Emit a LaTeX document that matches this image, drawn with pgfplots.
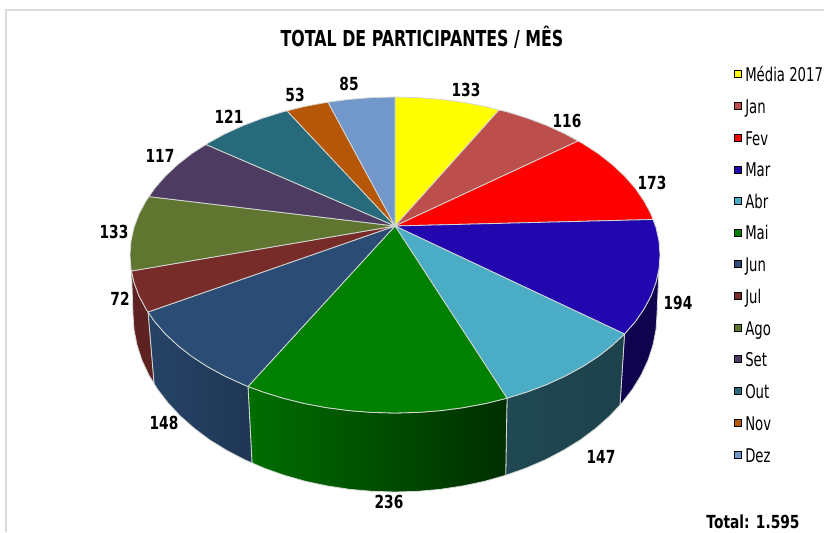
\documentclass[border=0pt]{standalone}
\usepackage{fontspec}
\setmainfont{DejaVu Sans}[FakeStretch=0.70]
\newfontfamily\titlefont{DejaVu Sans}[FakeStretch=0.72]
\newfontfamily\labfont{DejaVu Sans}[FakeStretch=0.765]
\usepackage{pgfplots}
\pgfplotsset{compat=1.18}
\usepackage{pgfplotstable}

\definecolor{cyel}{HTML}{FFFF00}
\definecolor{cjan}{HTML}{BC4F4C}
\definecolor{cfev}{HTML}{FF0000}
\definecolor{cmar}{HTML}{2207AE}
\definecolor{cabr}{HTML}{4BACC6}
\definecolor{cmai}{HTML}{008000}
\definecolor{cjun}{HTML}{2B4C75}
\definecolor{cjul}{HTML}{772C2A}
\definecolor{cago}{HTML}{5F7530}
\definecolor{cset}{HTML}{4D3B62}
\definecolor{cout}{HTML}{276A7C}
\definecolor{cnov}{HTML}{B65708}
\definecolor{cdez}{HTML}{7297CA}
\definecolor{edgec}{HTML}{D4D8D4}

% label position (pixels) and value of each slice
\pgfplotstableread{
x   y   v
466 90  133
567 121 116
652 183 173
678 303 194
601 457 147
389 502 236
164 423 148
120 299 72
114 232 133
160 156 117
229 117 121
295 95  53
349 84  85
}\labels

\pgfplotstableread[col sep=comma]{
x,y,name
745,74,Média 2017
745,106,Jan
745,138,Fev
745,169.5,Mar
745,201,Abr
745,232.5,Mai
745,264,Jun
745,296,Jul
745,328,Ago
745,359,Set
745,391,Out
745,423,Nov
745,455,Dez
}\keys

\pgfplotsset{
    wedge/.style={fill=#1, draw=edgec, line width=0.6pt, forget plot},
    side/.style 2 args={left color=#1, right color=#2, draw=edgec, line width=0.6pt, forget plot},
    key/.style={only marks, mark=square*, mark size=2.6pt, mark options={fill=#1, draw=none}, forget plot},
}

\begin{document}
\begin{tikzpicture}
\begin{axis}[
    scale only axis,
    width=618pt, height=399pt,
    xmin=0, xmax=824, ymin=0, ymax=532,
    y dir=reverse,
    hide axis,
    clip=false,
]
% frame
\addplot[no markers, color=black!15, line width=1.1pt, forget plot] coordinates {(824,10) (6,10) (6,532)};

% side walls
\addplot[no markers, side={cmar!45!black}{cmar!45!black}] coordinates {
    (659,268.8) (656,282.4) (651,295.9) (644,309) (635.2,321.8) (624.5,334)
    (620,405) (621.9,403) (632.5,389.2) (641.2,374.9) (648.1,360.1) (653,344.9) (656,329.5) (657,314)
} -- cycle;
\addplot[no markers, side={cabr!42!black}{cabr!38!black}] coordinates {
    (624.5,334) (612.1,345.6) (598,356.6) (582.4,366.7) (565.3,376) (547,384.4) (527.5,391.8) (507,398.2)
    (505.7,475.3) (526,468.1) (545.3,459.8) (563.4,450.3) (580.3,439.9) (595.7,428.4) (609.6,416.1) (620,405)
} -- cycle;
\addplot[no markers, side={cmai!86!black}{cmai!36!black}] coordinates {
    (507,398.2) (485.6,403.5) (463.6,407.6) (441,410.6) (418.1,412.4) (395,413) (371.9,412.4) (349,410.6)
    (326.4,407.6) (304.4,403.5) (283,398.2) (262.5,391.8) (248,386.5)
    (252,462.9) (264,468.1) (284.3,475.3) (305.4,481.3) (327.2,485.9) (349.5,489.3) (372.2,491.3) (395,492)
    (417.8,491.3) (440.5,489.3) (462.8,485.9) (484.6,481.3) (505.7,475.3)
} -- cycle;
\addplot[no markers, side={cjun!88!black}{cjun!72!black}] coordinates {
    (248,386.5) (243,384.4) (224.7,376) (207.6,366.7) (192,356.6) (177.9,345.6) (165.5,334) (154.8,321.8) (148,312)
    (154,383.4) (157.5,389.2) (168.1,403) (180.4,416.1) (194.3,428.4) (209.7,439.9) (226.6,450.3) (244.7,459.8) (252,462.9)
} -- cycle;
\addplot[no markers, side={cjul!78!black}{cjul!78!black}] coordinates {
    (148,312) (146,309) (139,295.9) (134,282.4) (131.5,271)
    (133,314) (134,329.5) (137,344.9) (141.9,360.1) (148.8,374.9) (154,383.4)
} -- cycle;

% top face
\addplot[no markers, wedge=cyel] coordinates {(395,226) (395,97) (418.1,97.6) (441,99.4) (463.6,102.4) (485.6,106.5) (499,110)} -- cycle;
\addplot[no markers, wedge=cjan] coordinates {(395,226) (499,110) (507,111.8) (527.5,118.2) (547,125.6) (565.3,134) (578,141)} -- cycle;
\addplot[no markers, wedge=cfev] coordinates {(395,226) (578,141) (582.4,143.3) (598,153.4) (612.1,164.4) (624.5,176) (635.2,188.2) (644,201) (651,214.1) (653,219.5)} -- cycle;
\addplot[no markers, wedge=cmar] coordinates {(395,226) (653,219.5) (656,227.6) (659,241.2) (660,255) (659,268.8) (656,282.4) (651,295.9) (644,309) (635.2,321.8) (624.5,334)} -- cycle;
\addplot[no markers, wedge=cabr] coordinates {(395,226) (624.5,334) (612.1,345.6) (598,356.6) (582.4,366.7) (565.3,376) (547,384.4) (527.5,391.8) (507,398.2)} -- cycle;
\addplot[no markers, wedge=cmai] coordinates {(395,226) (507,398.2) (485.6,403.5) (463.6,407.6) (441,410.6) (418.1,412.4) (395,413) (371.9,412.4) (349,410.6) (326.4,407.6) (304.4,403.5) (283,398.2) (262.5,391.8) (248,386.5)} -- cycle;
\addplot[no markers, wedge=cjun] coordinates {(395,226) (248,386.5) (243,384.4) (224.7,376) (207.6,366.7) (192,356.6) (177.9,345.6) (165.5,334) (154.8,321.8) (148,312)} -- cycle;
\addplot[no markers, wedge=cjul] coordinates {(395,226) (148,312) (146,309) (139,295.9) (134,282.4) (131.5,271)} -- cycle;
\addplot[no markers, wedge=cago] coordinates {(395,226) (131.5,271) (131,268.8) (130,255) (131,241.2) (134,227.6) (139,214.1) (146,201) (149,196.6)} -- cycle;
\addplot[no markers, wedge=cset] coordinates {(395,226) (149,196.6) (154.8,188.2) (165.5,176) (177.9,164.4) (192,153.4) (206,144.5)} -- cycle;
\addplot[no markers, wedge=cout] coordinates {(395,226) (206,144.5) (207.6,143.3) (224.7,134) (243,125.6) (262.5,118.2) (283,111.8) (287,110.8)} -- cycle;
\addplot[no markers, wedge=cnov] coordinates {(395,226) (287,110.8) (304.4,106.5) (326.4,102.4) (328,102.2)} -- cycle;
\addplot[no markers, wedge=cdez] coordinates {(395,226) (328,102.2) (349,99.4) (371.9,97.6) (395,97)} -- cycle;

% value labels
\addplot[draw=none, no markers, forget plot, point meta=explicit symbolic,
    nodes near coords,
    nodes near coords style={anchor=center, inner sep=0pt, font=\labfont\bfseries\fontsize{13.5pt}{15pt}\selectfont},
] table[x=x, y=y, meta=v] {\labels};

% key: squares and names
\addplot[key=cyel] coordinates {(738,74)};
\addplot[key=cjan] coordinates {(738,106)};
\addplot[key=cfev] coordinates {(738,138)};
\addplot[key=cmar] coordinates {(738,169.5)};
\addplot[key=cabr] coordinates {(738,201)};
\addplot[key=cmai] coordinates {(738,232.5)};
\addplot[key=cjun] coordinates {(738,264)};
\addplot[key=cjul] coordinates {(738,296)};
\addplot[key=cago] coordinates {(738,328)};
\addplot[key=cset] coordinates {(738,359)};
\addplot[key=cout] coordinates {(738,391)};
\addplot[key=cnov] coordinates {(738,423)};
\addplot[key=cdez] coordinates {(738,455)};
\addplot[draw=none, no markers, forget plot, point meta=explicit symbolic,
    nodes near coords,
    nodes near coords style={anchor=west, inner sep=0pt, text height=12.5pt, text depth=2pt, font=\fontsize{14.2pt}{16pt}\selectfont},
] table[x=x, y=y, meta=name] {\keys};

\node[font=\titlefont\bfseries\fontsize{16.5pt}{18pt}\selectfont, inner sep=0pt] at (axis cs:422,37) {TOTAL DE PARTICIPANTES / MÊS};
\node[font=\labfont\bfseries\fontsize{13.5pt}{15pt}\selectfont, inner sep=0pt] at (axis cs:753,522) {Total: 1.595};
\end{axis}
\pgfresetboundingbox
\path[use as bounding box] (0,0) rectangle (618pt,399pt);
\end{tikzpicture}
\end{document}
